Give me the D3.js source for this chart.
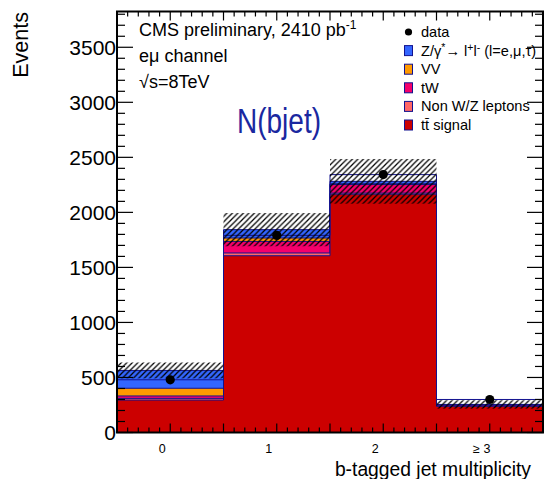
<!DOCTYPE html>
<html>
<head>
<meta charset="utf-8">
<script src="https://cdn.jsdelivr.net/npm/d3@7"></script>
<style>
  html, body { margin: 0; padding: 0; background: #fff; }
  svg { display: block; font-family: "Liberation Sans", Arial, Helvetica, sans-serif; }
</style>
</head>
<body>
<svg id="chart" width="544" height="479"></svg>
<script>
// b-tag multiplicity bins
const bins = ["0", "1", "2", "\u2265 3"];
// stacked predictions, bottom to top
const ttSignal = [295, 1606, 2165, 238];
const nonWZ    = [15, 25, 10, 3];
const tW       = [22, 105, 78, 8];
const VV       = [70, 31, 7, 1];
const Zll      = [162, 76, 22, 5];
// total prediction uncertainty (hatched band)
const mcUnc    = [72, 151, 203, 38];
// observed events
const data     = [479, 1791, 2343, 300];
const yTicks   = [0, 500, 1000, 1500, 2000, 2500, 3000, 3500];

const svg = d3.select("#chart");
const L = 117, R = 543, T = 11.5, B = 432.5;
const navy = "#12128f";

const x = d3.scaleLinear().domain([-0.5, 3.5]).range([L, R]);
const y = d3.scaleLinear().domain([0, 3825]).range([B, T]);

const components = [
  { name: "tt", values: ttSignal, color: "#cc0000" },
  { name: "nonWZ", values: nonWZ, color: "#ff6666" },
  { name: "tW", values: tW, color: "#f5006b" },
  { name: "VV", values: VV, color: "#ff9900" },
  { name: "Z", values: Zll, color: "#3366ff" }
];

// cumulative sums per component
let running = bins.map(() => 0);
components.forEach(c => {
  running = running.map((r, i) => r + c.values[i]);
  c.cum = running.slice();
});
const total = running;

const defs = svg.append("defs");
defs.append("pattern")
  .attr("id", "hatch").attr("patternUnits", "userSpaceOnUse")
  .attr("width", 5.5).attr("height", 5.5)
  .append("path")
  .attr("d", "M-1,1 l2,-2 M0,5.5 l5.5,-5.5 M4.5,6.5 l2,-2")
  .attr("stroke", "#000").attr("stroke-width", 1.25);
defs.append("clipPath").attr("id", "plotClip")
  .append("rect").attr("x", L).attr("y", T).attr("width", R - L).attr("height", B - T);

// step outline closed to the baseline
function stepPath(vals, closed) {
  const p = d3.path();
  p.moveTo(x(-0.5), y(0));
  vals.forEach((v, i) => {
    p.lineTo(x(i - 0.5), y(v));
    p.lineTo(x(i + 0.5), y(v));
  });
  p.lineTo(x(vals.length - 0.5), y(0));
  if (closed) p.closePath();
  return p.toString();
}

const plot = svg.append("g").attr("clip-path", "url(#plotClip)");

// stacked histograms, largest cumulative first
components.slice().reverse().forEach(c => {
  plot.append("path")
    .attr("d", stepPath(c.cum, true))
    .attr("fill", c.color)
    .attr("stroke", navy).attr("stroke-width", 1);
});

// observed histogram line
plot.append("path")
  .attr("d", stepPath(data, false))
  .attr("fill", "none").attr("stroke", navy).attr("stroke-width", 1);

// uncertainty band
plot.selectAll("rect.unc").data(bins).join("rect")
  .attr("class", "unc")
  .attr("x", (d, i) => x(i - 0.5))
  .attr("width", (d, i) => x(i + 0.5) - x(i - 0.5))
  .attr("y", (d, i) => y(total[i] + mcUnc[i]))
  .attr("height", (d, i) => y(total[i] - mcUnc[i]) - y(total[i] + mcUnc[i]))
  .attr("fill", "url(#hatch)");

// data points
plot.selectAll("circle.data").data(data).join("circle")
  .attr("class", "data")
  .attr("cx", (d, i) => x(i)).attr("cy", d => y(d)).attr("r", 4.6)
  .attr("fill", "#000");

// axes ticks
const axes = svg.append("g").attr("stroke", "#000").attr("stroke-width", 1.2);
const yMinor = d3.range(0, 3825, 100);
yMinor.forEach(v => {
  const major = v % 500 === 0;
  const len = major ? 16 : 8;
  axes.append("line").attr("x1", L).attr("x2", L + len).attr("y1", y(v)).attr("y2", y(v));
  axes.append("line").attr("x1", R).attr("x2", R - len).attr("y1", y(v)).attr("y2", y(v));
});
const xMinor = d3.range(-5, 36).map(k => k / 10);
xMinor.forEach(v => {
  const major = Math.abs(v * 2 - Math.round(v * 2)) < 1e-6;
  const len = major ? 9 : 5;
  axes.append("line").attr("x1", x(v)).attr("x2", x(v)).attr("y1", B).attr("y2", B - len);
  axes.append("line").attr("x1", x(v)).attr("x2", x(v)).attr("y1", T).attr("y2", T + len);
});

// frame
svg.append("rect").attr("x", L).attr("y", T).attr("width", R - L).attr("height", B - T)
  .attr("fill", "none").attr("stroke", "#000").attr("stroke-width", 2);

// y tick labels
svg.selectAll("text.ylab").data(yTicks).join("text")
  .attr("class", "ylab")
  .attr("x", L - 1).attr("y", d => y(d)).attr("dy", "0.36em")
  .attr("text-anchor", "end").attr("font-size", 21).text(d => d);

// x tick labels
svg.selectAll("text.xlab").data(bins).join("text")
  .attr("class", "xlab")
  .attr("x", (d, i) => x(i) - 8).attr("y", 453)
  .attr("text-anchor", "middle").attr("font-size", 12.5).text(d => d);

// axis titles
svg.append("text").attr("transform", "translate(28,12) rotate(-90)")
  .attr("text-anchor", "end").attr("font-size", 21.5).text("Events");
svg.append("text").attr("x", 531).attr("y", 476)
  .attr("text-anchor", "end").attr("font-size", 19.3).text("b-tagged jet multiplicity");

// header texts
const hdr = svg.append("text").attr("x", 139).attr("y", 36).attr("font-size", 18);
hdr.append("tspan").text("CMS preliminary, 2410 pb");
hdr.append("tspan").attr("font-size", 12).attr("dy", -7).text("-1");
svg.append("text").attr("x", 139).attr("y", 62).attr("font-size", 18).text("e\u03bc channel");
svg.append("text").attr("x", 139).attr("y", 88).attr("font-size", 18).text("\u221as=8TeV");

svg.append("text")
  .attr("transform", "translate(237,133) scale(0.8,1)")
  .attr("font-size", 35).attr("fill", "#1a28a0").text("N(bjet)");

// legend
const legendItems = [
  { label: "data", type: "dot" },
  { label: "Z", type: "box", color: "#3366ff" },
  { label: "VV", type: "box", color: "#ff9900" },
  { label: "tW", type: "box", color: "#f5006b" },
  { label: "Non W/Z leptons", type: "box", color: "#ff6666" },
  { label: "tt", type: "box", color: "#cc0000" }
];
const lg = svg.append("g");
legendItems.forEach((it, i) => {
  const cy = 32 + i * 18.6;
  if (it.type === "dot") {
    lg.append("circle").attr("cx", 408.5).attr("cy", cy).attr("r", 3.6).attr("fill", "#000");
  } else {
    lg.append("rect").attr("x", 404.5).attr("y", cy - 5).attr("width", 8).attr("height", 10)
      .attr("fill", it.color).attr("stroke", navy).attr("stroke-width", 1);
  }
  const t = lg.append("text").attr("x", 421).attr("y", cy + 5).attr("font-size", 14.6);
  if (it.label === "Z") {
    t.append("tspan").text("Z/\u03b3");
    t.append("tspan").attr("font-size", 10.5).attr("dy", -5).text("*");
    t.append("tspan").attr("dy", 5).text("\u2192 l");
    t.append("tspan").attr("font-size", 10.5).attr("dy", -5).text("+");
    t.append("tspan").attr("dy", 5).text("l");
    t.append("tspan").attr("font-size", 10.5).attr("dy", -5).text("-");
    t.append("tspan").attr("dy", 5).text(" (l=e,\u03bc,\u03c4)");
  } else if (it.label === "tt") {
    t.text("tt\u0304 signal");
  } else {
    t.text(it.label);
  }
});
</script>
</body>
</html>
